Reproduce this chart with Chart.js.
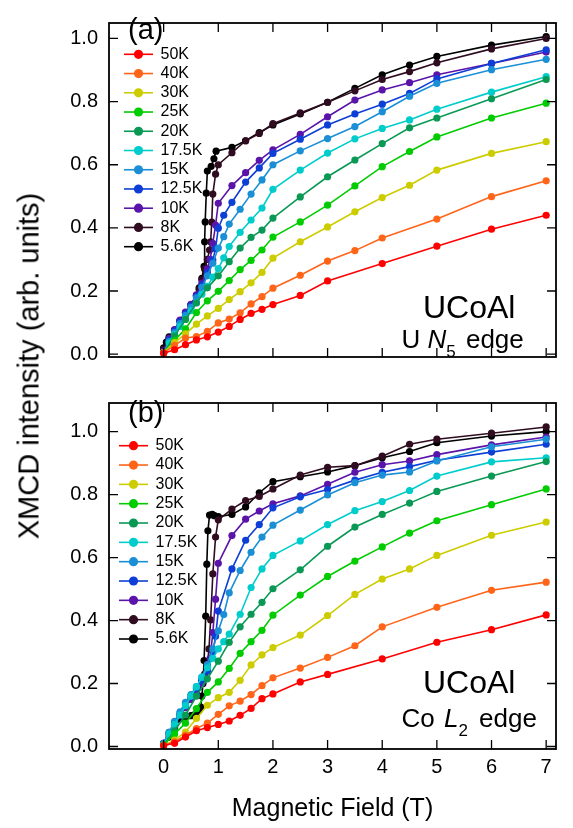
<!DOCTYPE html>
<html><head><meta charset="utf-8">
<script src="https://cdn.jsdelivr.net/npm/chart.js@4/dist/chart.umd.min.js"></script>
<style>
html,body{margin:0;padding:0;background:#fff;}
#wrap{position:relative;width:573px;height:828px;overflow:hidden;}
#ca{position:absolute;left:0;top:0;}
#cb{position:absolute;left:0;top:380px;}
#yt{position:absolute;left:28.5px;top:366px;transform:translate(-50%,-50%) rotate(-90deg);font:29px "Liberation Sans",Arial,sans-serif;white-space:nowrap;color:#000;}
</style></head>
<body>
<div id="wrap">
<canvas id="ca" width="573" height="380"></canvas>
<canvas id="cb" width="573" height="448"></canvas>
<div id="yt">XMCD intensity (arb. units)</div>
</div>
<script>
// ---------- data ----------
const temps = ['50K','40K','30K','25K','20K','17.5K','15K','12.5K','10K','8K','5.6K'];
const xTicks = [0,1,2,3,4,5,6,7];
const yTicks = [0,0.2,0.4,0.6,0.8,1.0];

// Panel (a): U N5 edge
const aX50 = [0,0.2,0.4,0.6,0.8,1.0,1.2,1.4,1.6,1.8,2.0,2.5,3,4,5,6,7];
const aY50 = [0.003,0.014,0.030,0.045,0.055,0.070,0.088,0.110,0.129,0.142,0.157,0.186,0.232,0.287,0.342,0.396,0.440];
const aX40 = [0,0.2,0.4,0.6,0.8,1.0,1.2,1.4,1.6,1.8,2.0,2.5,3,3.5,4,5,6,7];
const aY40 = [0.004,0.028,0.051,0.056,0.072,0.099,0.111,0.131,0.159,0.182,0.209,0.250,0.295,0.328,0.368,0.428,0.499,0.549];
const aX30 = [0,0.2,0.4,0.6,0.8,1.0,1.2,1.4,1.6,1.8,2.0,2.5,3,3.5,4,4.5,5,6,7];
const aY30 = [0.005,0.037,0.064,0.095,0.121,0.145,0.173,0.198,0.226,0.259,0.304,0.356,0.403,0.451,0.496,0.535,0.583,0.636,0.673];
const aX25 = [0,0.2,0.4,0.6,0.8,1.0,1.2,1.4,1.6,1.8,2.0,2.5,3,3.5,4,4.5,5,6,7];
const aY25 = [0.005,0.044,0.080,0.132,0.169,0.199,0.233,0.268,0.297,0.330,0.371,0.419,0.472,0.533,0.594,0.642,0.688,0.748,0.795];
const aX20 = [0,0.2,0.4,0.6,0.8,1.0,1.2,1.4,1.6,1.8,2.0,2.5,3,3.5,4,4.5,5,6,7];
const aY20 = [0.005,0.058,0.110,0.162,0.210,0.248,0.293,0.336,0.370,0.393,0.431,0.498,0.562,0.615,0.667,0.717,0.748,0.809,0.870];
const aX17 = [0,0.1,0.2,0.3,0.4,0.5,0.6,0.7,0.8,0.9,1.0,1.1,1.2,1.4,1.6,1.8,2.0,2.5,3,3.5,4,4.5,5,6,7];
const aY17 = [0.005,0.035,0.062,0.088,0.112,0.138,0.163,0.19,0.215,0.244,0.271,0.305,0.341,0.386,0.425,0.463,0.522,0.583,0.637,0.682,0.715,0.742,0.776,0.830,0.879];
const aX15 = [0,0.1,0.2,0.3,0.4,0.5,0.6,0.7,0.8,0.9,1.0,1.1,1.2,1.4,1.6,1.8,2.0,2.5,3,3.5,4,4.5,5,6,7];
const aY15 = [0.005,0.04,0.068,0.097,0.123,0.148,0.178,0.212,0.248,0.288,0.336,0.372,0.412,0.459,0.507,0.552,0.600,0.644,0.683,0.721,0.768,0.817,0.858,0.901,0.934];
const aX12 = [0,0.1,0.2,0.3,0.4,0.5,0.6,0.7,0.8,0.9,0.95,1.0,1.1,1.25,1.5,1.75,2.0,2.5,3,3.5,4,4.5,5,6,7];
const aY12 = [0.005,0.045,0.073,0.103,0.128,0.153,0.183,0.218,0.258,0.298,0.334,0.399,0.44,0.481,0.545,0.59,0.636,0.681,0.726,0.761,0.792,0.826,0.872,0.921,0.964];
const aX10 = [0,0.1,0.2,0.3,0.4,0.5,0.6,0.7,0.8,0.85,0.9,0.95,1.0,1.25,1.5,1.75,2,2.5,3,3.5,4,4.5,5,6,7];
const aY10 = [0.01,0.05,0.078,0.108,0.133,0.158,0.188,0.225,0.27,0.30,0.351,0.409,0.478,0.534,0.575,0.614,0.647,0.696,0.752,0.805,0.837,0.860,0.885,0.921,0.957];
const aX8 = [0,0.1,0.2,0.3,0.4,0.5,0.6,0.65,0.7,0.75,0.8,0.84,0.86,0.88,0.9,0.95,1.0,1.25,1.5,1.75,2,2.5,3,3.5,4,4.5,5,6,7];
const aY8 = [0.015,0.05,0.076,0.106,0.131,0.156,0.186,0.206,0.236,0.27,0.30,0.33,0.356,0.418,0.507,0.570,0.600,0.638,0.676,0.699,0.730,0.764,0.798,0.834,0.870,0.895,0.923,0.967,1.0];
const aX5 = [0,0.05,0.1,0.2,0.3,0.4,0.5,0.6,0.65,0.7,0.74,0.75,0.76,0.78,0.8,0.87,0.92,0.96,1.25,1.5,1.75,2,2.5,3,3.5,4,4.5,5,6,7];
const aY5 = [0.02,0.038,0.055,0.075,0.105,0.13,0.155,0.185,0.21,0.24,0.278,0.356,0.419,0.51,0.58,0.595,0.619,0.643,0.655,0.676,0.702,0.726,0.761,0.798,0.842,0.885,0.916,0.943,0.979,1.006];

// Panel (b): Co L2 edge
const bX50 = [0,0.2,0.4,0.6,0.8,1.0,1.2,1.4,1.6,1.8,2.0,2.5,3,4,5,6,7];
const bY50 = [0.003,0.01,0.03,0.05,0.06,0.07,0.081,0.099,0.121,0.152,0.167,0.205,0.229,0.278,0.331,0.371,0.418];
const bX40 = [0,0.2,0.4,0.6,0.8,1.0,1.2,1.4,1.6,1.8,2.0,2.5,3,3.5,4,5,6,7];
const bY40 = [0.003,0.015,0.035,0.057,0.074,0.102,0.129,0.144,0.165,0.193,0.218,0.249,0.283,0.320,0.380,0.442,0.496,0.522];
const bX30 = [0,0.2,0.4,0.6,0.8,1.0,1.2,1.4,1.6,1.8,2.0,2.5,3,3.5,4,4.5,5,6,7];
const bY30 = [0.003,0.02,0.046,0.089,0.131,0.155,0.172,0.210,0.259,0.291,0.314,0.354,0.416,0.483,0.532,0.564,0.607,0.671,0.713];
const bX25 = [0,0.2,0.4,0.6,0.8,1.0,1.2,1.4,1.6,1.8,2.0,2.5,3,3.5,4,4.5,5,6,7];
const bY25 = [0.005,0.04,0.074,0.12,0.172,0.205,0.248,0.296,0.333,0.369,0.417,0.481,0.540,0.589,0.634,0.678,0.717,0.768,0.818];
const bX20 = [0,0.2,0.4,0.6,0.8,1.0,1.2,1.4,1.6,1.8,2.0,2.5,3,3.5,4,4.5,5,6,7];
const bY20 = [0.005,0.05,0.10,0.16,0.215,0.271,0.331,0.380,0.420,0.458,0.501,0.561,0.636,0.697,0.737,0.773,0.810,0.859,0.905];
const bX17 = [0,0.1,0.2,0.3,0.4,0.5,0.6,0.7,0.8,0.9,1.0,1.1,1.2,1.4,1.6,1.8,2.0,2.5,3,3.5,4,4.5,5,6,7];
const bY17 = [0.005,0.04,0.07,0.1,0.13,0.16,0.19,0.22,0.25,0.28,0.31,0.333,0.357,0.420,0.505,0.564,0.607,0.653,0.705,0.749,0.778,0.813,0.859,0.904,0.917];
const bX15 = [0,0.1,0.2,0.3,0.4,0.5,0.6,0.7,0.8,0.9,1.0,1.1,1.2,1.4,1.6,1.8,2.0,2.5,3,3.5,4,4.5,5,6,7];
const bY15 = [0.01,0.045,0.08,0.11,0.14,0.165,0.19,0.22,0.26,0.31,0.367,0.419,0.488,0.559,0.617,0.665,0.703,0.751,0.799,0.838,0.862,0.872,0.907,0.952,0.976];
const bX12 = [0,0.1,0.2,0.3,0.4,0.5,0.6,0.7,0.8,0.9,0.95,1.0,1.25,1.5,1.75,2.0,2.5,3,3.5,4,4.5,5,6,7];
const bY12 = [0.01,0.045,0.075,0.105,0.135,0.16,0.185,0.21,0.24,0.30,0.35,0.430,0.564,0.655,0.705,0.758,0.793,0.816,0.846,0.871,0.889,0.909,0.935,0.960];
const bX10 = [0,0.1,0.2,0.3,0.4,0.5,0.6,0.7,0.8,0.85,0.9,0.95,1.0,1.25,1.5,1.75,2,2.5,3,3.5,4,4.5,5,6,7];
const bY10 = [0.01,0.04,0.07,0.1,0.125,0.15,0.17,0.2,0.24,0.28,0.362,0.468,0.582,0.670,0.722,0.748,0.771,0.796,0.833,0.871,0.895,0.907,0.927,0.958,0.983];
const bX8 = [0,0.1,0.2,0.3,0.4,0.5,0.6,0.65,0.7,0.75,0.8,0.83,0.86,0.9,0.95,1.0,1.25,1.5,1.75,2,2.5,3,3.5,4,4.5,5,6,7];
const bY8 = [0.01,0.04,0.07,0.1,0.125,0.15,0.175,0.19,0.21,0.23,0.26,0.31,0.402,0.548,0.665,0.720,0.754,0.781,0.794,0.818,0.862,0.887,0.892,0.922,0.960,0.976,0.995,1.015];
const bX5 = [0,0.1,0.2,0.3,0.4,0.5,0.55,0.6,0.65,0.68,0.7,0.72,0.74,0.77,0.79,0.81,0.84,0.89,0.93,1.0,1.25,1.5,1.75,2,2.5,3,3.5,4,4.5,5,6,7];
const bY5 = [0.01,0.03,0.06,0.088,0.094,0.098,0.1,0.102,0.115,0.125,0.16,0.2,0.273,0.414,0.579,0.685,0.735,0.737,0.733,0.730,0.737,0.761,0.806,0.841,0.857,0.872,0.892,0.917,0.937,0.965,0.986,1.0];

const seriesA = [[aX50,aY50],[aX40,aY40],[aX30,aY30],[aX25,aY25],[aX20,aY20],[aX17,aY17],[aX15,aY15],[aX12,aY12],[aX10,aY10],[aX8,aY8],[aX5,aY5]];
const seriesB = [[bX50,bY50],[bX40,bY40],[bX30,bY30],[bX25,bY25],[bX20,bY20],[bX17,bY17],[bX15,bY15],[bX12,bY12],[bX10,bY10],[bX8,bY8],[bX5,bY5]];

// ---------- style ----------
const colors = ['#ff0000','#ff6418','#cccc00','#00cc00','#0a9955','#00cccc','#1a8fd6','#0d3fd6','#5a14aa','#300c20','#000000'];
const FONT = '"Liberation Sans", Arial, Helvetica, sans-serif';

function buildDatasets(series){
  return series.map((s,i)=>({
    label: temps[i],
    data: s[0].map((x,j)=>({x:x, y:s[1][j]})),
    borderColor: colors[i],
    backgroundColor: colors[i],
    pointBackgroundColor: colors[i],
    pointBorderWidth: 0,
    pointRadius: 3.6,
    borderWidth: 1.6,
    tension: 0,
    showLine: true
  }));
}

function drawRich(ctx, parts, x, y){
  let cx = x;
  parts.forEach(p=>{
    ctx.font = p.f + ' ' + FONT;
    ctx.fillText(p.t, cx + (p.gap||0), y + (p.dy||0));
    cx += (p.gap||0) + ctx.measureText(p.t).width;
  });
}

const decor = {
  id: 'decor',
  afterDatasetsDraw(chart, args, o){
    const ctx = chart.ctx;
    const {left,right,top,bottom} = chart.chartArea;
    const xs = chart.scales.x, ys = chart.scales.y;
    ctx.save();
    ctx.strokeStyle = '#000'; ctx.lineWidth = 1.3;
    ctx.beginPath();
    xTicks.forEach(v=>{ const p = xs.getPixelForValue(v);
      ctx.moveTo(p,bottom); ctx.lineTo(p,bottom-9); ctx.moveTo(p,top); ctx.lineTo(p,top+9); });
    yTicks.forEach(v=>{ const p = ys.getPixelForValue(v);
      ctx.moveTo(left,p); ctx.lineTo(left+9,p); ctx.moveTo(right,p); ctx.lineTo(right-9,p); });
    ctx.stroke();
    ctx.lineWidth = 1.8;
    ctx.strokeRect(left, top, right-left, bottom-top);
    // legend
    const L = o.legend;
    chart.data.datasets.forEach((ds,i)=>{
      const yy = L.y0 + i*L.dy;
      ctx.strokeStyle = ds.borderColor; ctx.lineWidth = 1.6;
      ctx.beginPath(); ctx.moveTo(L.x1,yy); ctx.lineTo(L.x2,yy); ctx.stroke();
      ctx.fillStyle = ds.borderColor;
      ctx.beginPath(); ctx.arc((L.x1+L.x2)/2, yy, 4.6, 0, Math.PI*2); ctx.fill();
      ctx.fillStyle = '#000'; ctx.font = '16px ' + FONT;
      ctx.textBaseline = 'middle'; ctx.textAlign = 'left';
      ctx.fillText(ds.label, L.tx, yy);
    });
    // annotations
    ctx.fillStyle = '#000'; ctx.textBaseline = 'alphabetic'; ctx.textAlign = 'left';
    ctx.font = '29px ' + FONT; ctx.fillText(o.tag, 128, o.tagY);
    ctx.font = '32px ' + FONT; ctx.fillText('UCoAl', 423, o.nameY);
    drawRich(ctx, o.edge, 401.5, o.edgeY);
    ctx.restore();
  }
};

function makeChart(id, series, P){
  return new Chart(document.getElementById(id), {
    type: 'scatter',
    data: { datasets: buildDatasets(series) },
    plugins: [decor],
    options: {
      responsive: false, animation: false,
      layout: { padding: { left: 0, right: 17, top: 6, bottom: 0 } },
      plugins: { legend: { display: false }, tooltip: { enabled: false }, decor: P.decor },
      scales: {
        x: {
          type: 'linear', min: -1.0, max: 7.18,
          afterBuildTicks: s => { s.ticks = xTicks.map(v=>({value:v})); },
          afterFit: s => { s.height = P.xH; },
          grid: { display: false, drawTicks: false }, border: { display: false },
          ticks: { display: P.showX, autoSkip: false, maxRotation: 0, padding: 6, color: '#000', font: { size: 20, family: FONT } },
          title: { display: P.showX, text: 'Magnetic Field (T)', color: '#000', font: { size: 25, family: FONT }, padding: { top: 0, bottom: 4 } }
        },
        y: {
          type: 'linear', min: P.ymin, max: P.ymax,
          afterBuildTicks: s => { s.ticks = yTicks.map(v=>({value:v})); },
          afterFit: s => { s.width = 109; },
          grid: { display: false, drawTicks: false }, border: { display: false },
          ticks: { padding: 11, color: '#000', font: { size: 20, family: FONT }, callback: v => Number(v).toFixed(1) }
        }
      }
    }
  });
}

makeChart('ca', seriesA, {
  xH: 9, showX: false, ymin: -0.009, ymax: 1.049,
  decor: {
    legend: { x1: 124, x2: 153, tx: 160.5, y0: 54.3, dy: 19.24 },
    tag: '(a)', tagY: 39, nameY: 318,
    edgeY: 348.3,
    edge: [ {t:'U ', f:'26px'}, {t:'N', f:'italic 26px'}, {t:'5', f:'17px', dy:9}, {t:' edge', f:'26px', gap:3} ]
  }
});
makeChart('cb', seriesB, {
  xH: 79, showX: true, ymin: -0.008, ymax: 1.091,
  decor: {
    legend: { x1: 119, x2: 148, tx: 155.5, y0: 65.7, dy: 19.33 },
    tag: '(b)', tagY: 41.5, nameY: 313.3,
    edgeY: 346.7,
    edge: [ {t:'Co ', f:'26px'}, {t:'L', f:'italic 26px', gap:2}, {t:'2', f:'17px', dy:9}, {t:' edge', f:'26px', gap:4} ]
  }
});
</script>
</body></html>
